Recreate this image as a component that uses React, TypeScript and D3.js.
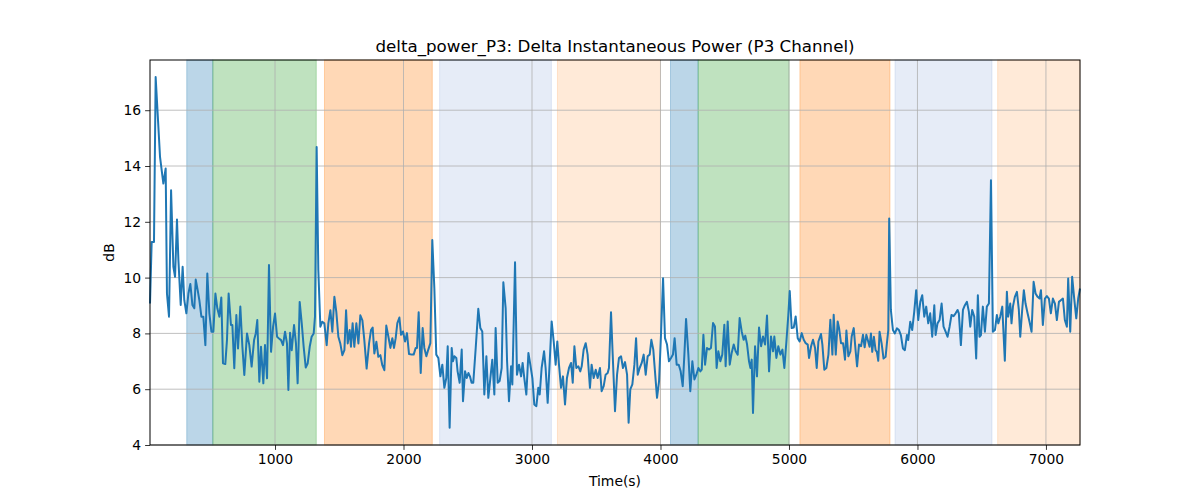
import React, { useEffect, useRef } from "react";
import * as d3 from "d3";

// delta power trace, [time (s), dB]
const trace: [number, number][] = [
  [27, 9.07], [40, 11.28], [58, 11.28], [71, 17.19], [105, 14.33], [131, 13.37], [149, 13.91],
  [159, 9.43], [175, 8.6], [191, 13.13], [209, 10.39], [222, 10.03], [237, 12.08], [248, 10.63],
  [266, 9.02], [281, 10.39], [294, 9.19], [310, 8.72], [326, 9.43], [341, 9.77], [357, 9.02],
  [372, 8.9], [383, 9.93], [398, 9.55], [411, 9.19], [427, 8.6], [442, 8.6], [458, 7.58],
  [473, 10.15], [489, 8.72], [505, 8.06], [520, 8.06], [536, 9.43], [551, 8.9], [567, 8.6],
  [582, 9.29], [595, 6.93], [613, 6.9], [626, 7.76], [639, 9.43], [657, 8.3], [668, 8.3],
  [683, 6.75], [699, 8.66], [712, 7.46], [730, 8.96], [746, 7.52], [761, 6.51], [782, 8.0],
  [800, 7.58], [818, 6.81], [837, 7.76], [850, 8.0], [862, 8.48], [878, 6.27], [891, 7.52],
  [909, 6.21], [922, 7.58], [938, 6.39], [953, 10.45], [969, 7.34], [985, 8.24], [1000, 8.71],
  [1016, 7.88], [1031, 7.82], [1047, 7.76], [1062, 7.58], [1078, 8.06], [1093, 7.64], [1104, 5.97],
  [1117, 8.02], [1130, 7.4], [1148, 8.3], [1163, 7.64], [1176, 6.21], [1192, 9.13], [1208, 8.36],
  [1223, 7.52], [1239, 6.78], [1254, 6.92], [1270, 7.52], [1285, 7.88], [1301, 8.0], [1311, 8.59],
  [1324, 14.68], [1337, 10.27], [1353, 8.24], [1368, 8.42], [1384, 8.36], [1402, 7.58], [1415, 8.36],
  [1431, 8.83], [1446, 8.06], [1462, 9.31], [1477, 8.77], [1493, 7.88], [1508, 7.64], [1524, 7.22],
  [1540, 7.4], [1553, 8.83], [1566, 7.64], [1581, 8.12], [1591, 7.52], [1604, 8.36], [1617, 7.52],
  [1633, 8.36], [1649, 7.64], [1664, 8.65], [1680, 8.47], [1695, 7.76], [1713, 6.74], [1732, 7.64],
  [1747, 8.12], [1760, 8.21], [1773, 7.28], [1789, 7.7], [1804, 7.16], [1820, 7.22], [1835, 6.86],
  [1851, 6.68], [1866, 8.28], [1882, 7.89], [1898, 7.48], [1913, 7.83], [1926, 7.48], [1939, 7.83],
  [1952, 8.37], [1968, 8.57], [1981, 7.95], [1996, 8.07], [2012, 7.71], [2027, 8.01], [2043, 7.26],
  [2064, 7.24], [2079, 7.24], [2095, 7.48], [2105, 7.48], [2118, 8.76], [2134, 6.58], [2149, 8.19],
  [2162, 7.48], [2178, 7.18], [2193, 7.42], [2209, 7.65], [2224, 11.35], [2240, 9.62], [2255, 7.24],
  [2271, 7.12], [2287, 6.46], [2302, 6.88], [2318, 6.05], [2333, 6.4], [2344, 7.54], [2359, 4.62],
  [2375, 7.48], [2385, 7.0], [2396, 7.18], [2411, 7.12], [2421, 6.64], [2437, 6.23], [2453, 7.42],
  [2463, 5.57], [2479, 6.64], [2492, 6.4], [2505, 6.58], [2517, 6.46], [2530, 6.23], [2543, 6.23],
  [2562, 7.48], [2582, 8.88], [2598, 8.19], [2613, 8.07], [2629, 5.81], [2645, 7.18], [2660, 5.69],
  [2676, 6.4], [2691, 7.06], [2707, 5.81], [2717, 8.19], [2733, 6.23], [2748, 6.29], [2764, 6.76],
  [2777, 9.83], [2795, 8.9], [2806, 7.0], [2821, 5.57], [2837, 6.82], [2847, 6.17], [2868, 10.55],
  [2883, 6.52], [2899, 6.88], [2915, 6.46], [2927, 6.94], [2940, 6.4], [2956, 5.81], [2972, 7.3],
  [2987, 6.88], [3003, 6.4], [3018, 5.45], [3034, 5.39], [3049, 6.05], [3060, 5.81], [3075, 6.76],
  [3094, 7.36], [3106, 6.76], [3122, 5.51], [3138, 7.0], [3153, 8.43], [3169, 7.71], [3184, 6.88],
  [3197, 7.71], [3210, 6.88], [3226, 6.05], [3241, 6.46], [3257, 5.45], [3272, 6.4], [3288, 6.76],
  [3304, 6.94], [3317, 6.23], [3330, 7.54], [3345, 6.76], [3361, 6.82], [3376, 6.64], [3387, 6.82],
  [3402, 7.42], [3418, 7.65], [3433, 7.24], [3451, 6.05], [3464, 6.88], [3480, 6.4], [3496, 6.7],
  [3511, 6.4], [3529, 6.76], [3542, 5.93], [3558, 6.11], [3573, 6.52], [3589, 6.58], [3599, 6.76],
  [3615, 8.76], [3628, 7.24], [3646, 5.21], [3662, 6.52], [3677, 7.12], [3693, 7.18], [3708, 6.76],
  [3724, 6.97], [3740, 6.52], [3752, 4.8], [3765, 5.99], [3781, 6.17], [3797, 6.88], [3810, 7.83],
  [3823, 6.52], [3838, 6.76], [3854, 6.94], [3869, 7.24], [3885, 6.52], [3900, 7.18], [3916, 7.24],
  [3929, 7.77], [3944, 7.42], [3957, 6.64], [3973, 5.69], [3989, 6.29], [4004, 7.95], [4020, 9.98],
  [4035, 7.83], [4051, 7.6], [4066, 7.0], [4082, 7.12], [4097, 7.24], [4110, 7.83], [4126, 6.88],
  [4142, 6.88], [4157, 6.64], [4173, 6.11], [4186, 7.24], [4199, 8.52], [4217, 7.24], [4232, 5.93],
  [4248, 7.0], [4264, 6.35], [4279, 6.52], [4295, 6.76], [4310, 6.64], [4321, 6.7], [4334, 7.95],
  [4347, 6.88], [4362, 7.48], [4378, 7.42], [4393, 7.48], [4409, 8.37], [4424, 8.25], [4437, 6.76],
  [4450, 7.36], [4466, 7.0], [4481, 7.24], [4497, 8.31], [4507, 6.82], [4523, 8.43], [4539, 6.88],
  [4554, 7.3], [4570, 7.6], [4585, 7.36], [4601, 7.24], [4616, 8.55], [4632, 8.07], [4647, 7.77],
  [4660, 7.92], [4674, 7.6], [4689, 7.0], [4700, 6.76], [4710, 7.06], [4720, 5.15], [4736, 7.54],
  [4751, 6.46], [4767, 8.21], [4783, 7.54], [4798, 7.89], [4814, 7.6], [4829, 8.64], [4845, 6.64],
  [4860, 7.89], [4876, 7.36], [4886, 7.89], [4902, 7.12], [4917, 7.54], [4933, 7.24], [4949, 7.42],
  [4964, 6.76], [4980, 7.71], [4995, 8.67], [5006, 9.52], [5021, 8.19], [5037, 8.21], [5052, 8.61],
  [5068, 7.83], [5083, 7.71], [5099, 8.01], [5115, 7.77], [5130, 7.65], [5146, 7.6], [5156, 7.12],
  [5172, 7.54], [5187, 7.77], [5203, 7.48], [5216, 6.76], [5229, 7.71], [5249, 7.98], [5260, 7.6],
  [5275, 6.7], [5291, 6.76], [5307, 7.24], [5322, 8.49], [5338, 7.24], [5348, 8.67], [5364, 7.24],
  [5379, 8.43], [5390, 8.19], [5405, 7.65], [5421, 7.65], [5436, 7.06], [5447, 8.1], [5462, 7.18],
  [5478, 7.36], [5488, 7.89], [5504, 8.19], [5519, 7.36], [5530, 6.82], [5545, 7.6], [5561, 7.54],
  [5576, 7.95], [5589, 7.5], [5602, 7.95], [5617, 7.7], [5627, 7.52], [5638, 8.0], [5648, 7.34],
  [5661, 7.88], [5674, 7.4], [5684, 7.34], [5695, 7.02], [5705, 8.06], [5721, 7.64], [5736, 7.1],
  [5752, 7.16], [5762, 7.64], [5773, 8.12], [5780, 12.12], [5793, 8.84], [5809, 8.12], [5824, 8.0],
  [5840, 8.18], [5856, 8.12], [5871, 7.94], [5887, 7.46], [5902, 7.4], [5918, 7.94], [5928, 7.76],
  [5944, 8.42], [5959, 8.12], [5975, 8.78], [5990, 9.55], [6006, 8.48], [6022, 9.13], [6037, 9.37],
  [6053, 8.6], [6068, 8.96], [6084, 8.36], [6099, 8.72], [6115, 7.88], [6131, 9.01], [6141, 7.94],
  [6156, 8.36], [6172, 8.48], [6188, 9.07], [6203, 8.24], [6219, 8.06], [6234, 7.88], [6250, 8.24],
  [6265, 8.66], [6281, 8.62], [6297, 8.72], [6312, 8.84], [6322, 8.72], [6338, 7.58], [6354, 8.84],
  [6369, 9.01], [6385, 9.13], [6400, 8.78], [6411, 8.24], [6426, 8.84], [6442, 8.6], [6457, 7.1],
  [6470, 9.37], [6483, 7.88], [6494, 7.94], [6509, 8.96], [6525, 8.06], [6540, 8.96], [6556, 9.07],
  [6572, 13.49], [6587, 8.06], [6603, 8.12], [6618, 8.66], [6629, 8.36], [6644, 8.6], [6660, 8.96],
  [6680, 7.02], [6696, 9.49], [6706, 8.6], [6722, 9.07], [6732, 8.36], [6743, 8.96], [6758, 9.31],
  [6774, 9.49], [6789, 8.84], [6800, 7.88], [6815, 8.84], [6828, 9.55], [6841, 9.07], [6857, 8.72],
  [6872, 8.42], [6888, 8.06], [6904, 9.85], [6919, 9.43], [6935, 9.31], [6950, 9.25], [6961, 9.55],
  [6976, 8.3], [6992, 9.25], [7007, 9.34], [7023, 9.25], [7038, 8.72], [7054, 9.25], [7070, 9.07],
  [7085, 8.48], [7101, 9.13], [7116, 9.19], [7132, 9.25], [7147, 8.48], [7163, 8.24], [7173, 9.97],
  [7189, 8.06], [7204, 10.03], [7220, 9.25], [7236, 8.54], [7251, 9.25], [7265, 9.61],
];

// shaded stage intervals (seconds)
const spanStart = [313, 516, 1385, 2281, 3198, 4078, 4293, 5085, 5825, 6624];
const spanEnd = [516, 1321, 2224, 3151, 4000, 4293, 5001, 5786, 6580, 7265];
const spanKind = ["blue", "green", "orange", "paleBlue", "paleOrange", "blue", "green", "orange", "paleBlue", "paleOrange"];

const xTicks = [1000, 2000, 3000, 4000, 5000, 6000, 7000];
const yTicks = [4, 6, 8, 10, 12, 14, 16];

const spanStyle: Record<string, { color: string; alpha: number }> = {
  blue: { color: "#1f77b4", alpha: 0.3 },
  green: { color: "#2ca02c", alpha: 0.3 },
  orange: { color: "#ff7f0e", alpha: 0.3 },
  paleBlue: { color: "#3a6fc0", alpha: 0.13 },
  paleOrange: { color: "#ff7f0e", alpha: 0.16 },
};

const W = 1200;
const H = 500;
const margin = { top: 60, right: 120, bottom: 55, left: 150 };
const font = "DejaVu Sans, sans-serif";

const App: React.FC = () => {
  const ref = useRef<SVGSVGElement | null>(null);

  useEffect(() => {
    const svg = d3.select(ref.current);
    svg.selectAll("*").remove();

    const x = d3
      .scaleLinear()
      .domain(d3.extent(trace, (d) => d[0]) as [number, number])
      .range([margin.left, W - margin.right]);
    const y = d3
      .scaleLinear()
      .domain([4, 17.8])
      .range([H - margin.bottom, margin.top]);

    svg.append("rect").attr("width", W).attr("height", H).attr("fill", "#fff");

    // stage spans
    svg
      .append("g")
      .selectAll("rect")
      .data(spanStart.map((s, i) => ({ s, e: spanEnd[i], k: spanKind[i] })))
      .enter()
      .append("rect")
      .attr("x", (d) => x(d.s))
      .attr("y", margin.top)
      .attr("width", (d) => x(d.e) - x(d.s))
      .attr("height", H - margin.bottom - margin.top)
      .attr("fill", (d) => spanStyle[d.k].color)
      .attr("fill-opacity", (d) => spanStyle[d.k].alpha)
      .attr("stroke", (d) => spanStyle[d.k].color)
      .attr("stroke-opacity", (d) => spanStyle[d.k].alpha)
      .attr("stroke-width", 1);

    // grid
    const grid = svg.append("g").attr("stroke", "#b0b0b0").attr("stroke-width", 0.8);
    grid
      .selectAll("line.gx")
      .data(xTicks)
      .enter()
      .append("line")
      .attr("x1", (d) => x(d))
      .attr("x2", (d) => x(d))
      .attr("y1", margin.top)
      .attr("y2", H - margin.bottom);
    grid
      .selectAll("line.gy")
      .data(yTicks)
      .enter()
      .append("line")
      .attr("x1", margin.left)
      .attr("x2", W - margin.right)
      .attr("y1", (d) => y(d))
      .attr("y2", (d) => y(d));

    // trace
    const line = d3
      .line<[number, number]>()
      .x((d) => x(d[0]))
      .y((d) => y(d[1]));
    svg
      .append("path")
      .datum(trace)
      .attr("d", line)
      .attr("fill", "none")
      .attr("stroke", "#1f77b4")
      .attr("stroke-width", 2)
      .attr("stroke-linejoin", "round");

    // frame
    svg
      .append("rect")
      .attr("x", margin.left)
      .attr("y", margin.top)
      .attr("width", W - margin.right - margin.left)
      .attr("height", H - margin.bottom - margin.top)
      .attr("fill", "none")
      .attr("stroke", "#000")
      .attr("stroke-width", 1);

    const xAxis = svg
      .append("g")
      .attr("transform", `translate(0,${H - margin.bottom})`)
      .call(d3.axisBottom(x).tickValues(xTicks).tickSizeOuter(0).tickSize(4.9).tickPadding(4).tickFormat(d3.format("d")));
    const yAxis = svg
      .append("g")
      .attr("transform", `translate(${margin.left},0)`)
      .call(d3.axisLeft(y).tickValues(yTicks).tickSizeOuter(0).tickSize(4.9).tickPadding(4).tickFormat(d3.format("d")));
    [xAxis, yAxis].forEach((a) => {
      a.select(".domain").remove();
      a.selectAll("text").attr("font-family", font).attr("font-size", 13.9).attr("fill", "#000");
      a.selectAll("line").attr("stroke", "#000").attr("stroke-width", 0.8);
    });

    svg
      .append("text")
      .attr("x", (margin.left + W - margin.right) / 2)
      .attr("y", 52)
      .attr("text-anchor", "middle")
      .attr("font-family", font)
      .attr("font-size", 16.7)
      .text("delta_power_P3: Delta Instantaneous Power (P3 Channel)");

    svg
      .append("text")
      .attr("x", (margin.left + W - margin.right) / 2)
      .attr("y", 486)
      .attr("text-anchor", "middle")
      .attr("font-family", font)
      .attr("font-size", 13.9)
      .text("Time(s)");

    svg
      .append("text")
      .attr("transform", `translate(114,${(margin.top + H - margin.bottom) / 2}) rotate(-90)`)
      .attr("text-anchor", "middle")
      .attr("font-family", font)
      .attr("font-size", 13.9)
      .text("dB");
  }, []);

  return <svg ref={ref} width={W} height={H} style={{ position: "absolute", left: 0, top: 0 }} />;
};

export default App;
